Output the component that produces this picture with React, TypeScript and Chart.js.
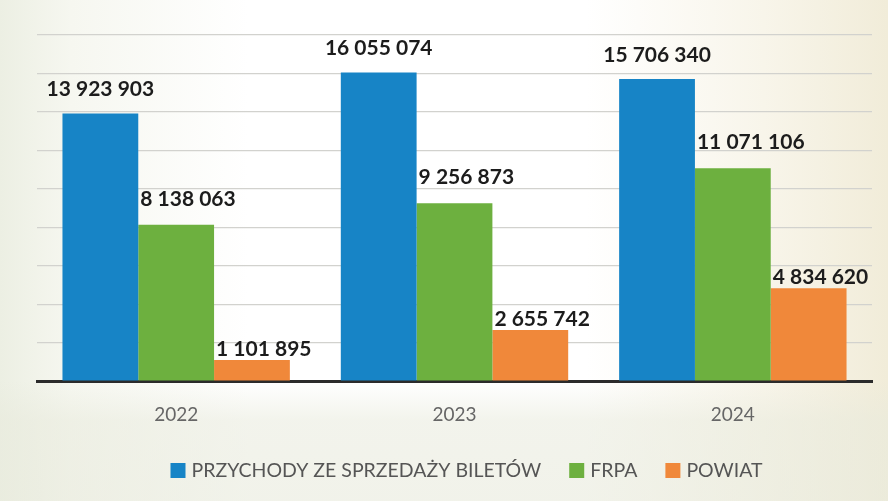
import React, { useEffect, useRef } from "react";
import { Chart, registerables } from "chart.js";

Chart.register(...registerables);

const categories = ["2022", "2023", "2024"];
const seriesNames = ["PRZYCHODY ZE SPRZEDAŻY BILETÓW", "FRPA", "POWIAT"];
const ticketRevenue = [13923903, 16055074, 15706340];
const frpa = [8138063, 9256873, 11071106];
const powiat = [1101895, 2655742, 4834620];
const seriesColors = ["#1784C6", "#6DB03F", "#F0883A"];

const fmt = (v: number) => String(v).replace(/\B(?=(\d{3})+(?!\d))/g, " ");

const labelPlugin = {
  id: "barLabels",
  afterDatasetsDraw(chart: any) {
    const ctx = chart.ctx;
    ctx.save();
    ctx.font = "bold 21px Lato";
    ctx.fillStyle = "#1c1c1c";
    ctx.textBaseline = "alphabetic";
    chart.data.datasets.forEach((ds: any, di: number) => {
      const meta = chart.getDatasetMeta(di);
      meta.data.forEach((bar: any, i: number) => {
        const txt = fmt(ds.data[i]);
        if (di === 0) {
          ctx.textAlign = "center";
          ctx.fillText(txt, bar.x, bar.y - 17);
        } else {
          ctx.textAlign = "left";
          const gap = di === 2 ? 4 : 19;
          ctx.fillText(txt, bar.x - bar.width / 2 + 2, bar.y - gap);
        }
      });
    });
    ctx.restore();
  },
};

const legendPlugin = {
  id: "customLegend",
  afterDraw(chart: any) {
    const ctx = chart.ctx;
    const box = 15;
    const textGap = 6;
    const itemGap = 28;
    ctx.save();
    ctx.font = "19.5px Lato";
    ctx.textBaseline = "alphabetic";
    ctx.textAlign = "left";
    const items = chart.data.datasets.map((ds: any) => ({
      text: ds.label,
      color: ds.backgroundColor,
      w: ctx.measureText(ds.label).width,
    }));
    const total =
      items.reduce((s: number, it: any) => s + box + textGap + it.w, 0) + itemGap * (items.length - 1);
    const center = (chart.chartArea.left + chart.chartArea.right) / 2 + 12;
    let x = center - total / 2;
    const baseline = chart.height - 24;
    items.forEach((it: any) => {
      ctx.fillStyle = it.color;
      ctx.fillRect(x, baseline - 14, box, box);
      x += box + textGap;
      ctx.fillStyle = "#555555";
      ctx.fillText(it.text, x, baseline);
      x += it.w + itemGap;
    });
    ctx.restore();
  },
};

export default function App() {
  const ref = useRef<HTMLCanvasElement | null>(null);
  useEffect(() => {
    if (!ref.current) return;
    const chart = new Chart(ref.current, {
      type: "bar",
      data: {
        labels: categories,
        datasets: [
          { label: seriesNames[0], data: ticketRevenue, backgroundColor: seriesColors[0] },
          { label: seriesNames[1], data: frpa, backgroundColor: seriesColors[1] },
          { label: seriesNames[2], data: powiat, backgroundColor: seriesColors[2] },
        ],
      },
      options: {
        animation: false,
        responsive: true,
        maintainAspectRatio: false,
        layout: { padding: { left: 37, right: 16, top: 35, bottom: 61 } },
        datasets: { bar: { categoryPercentage: 0.817, barPercentage: 1 } },
        plugins: {
          tooltip: { enabled: false },
          legend: { display: false },
        },
        scales: {
          x: {
            grid: { display: false },
            border: { display: true, color: "#2b2b2b", width: 3 },
            ticks: { color: "#666666", font: { family: "Lato", size: 19 }, padding: 14 },
          },
          y: {
            min: 0,
            max: 18000000,
            ticks: { display: false, stepSize: 2000000 },
            grid: { color: "#D2D2CE", lineWidth: 1.2, drawTicks: false },
            border: { display: false },
          },
        },
      },
      plugins: [labelPlugin, legendPlugin],
    });
    return () => chart.destroy();
  }, []);
  return (
    <div
      style={{
        position: "fixed",
        left: 0,
        top: 0,
        width: "100vw",
        height: "100vh",
        background:
          "linear-gradient(180deg, rgba(255,255,255,0) 76%, rgba(232,234,220,0.55) 84%, rgba(232,234,220,0.6) 100%), linear-gradient(90deg, #ECEFE3 0%, #F6F7F0 8%, #FFFFFF 28%, #FFFFFF 66%, #F8F5EA 86%, #F1ECD9 100%)",
      }}
    >
      <canvas ref={ref} />
    </div>
  );
}
